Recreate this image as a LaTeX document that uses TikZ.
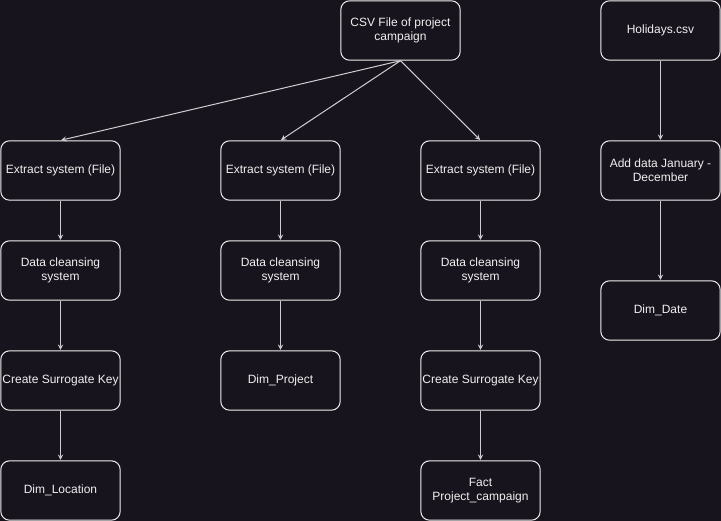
\documentclass[tikz,border=0pt]{standalone}
\usepackage{fontspec}
\setmainfont{Liberation Sans}
\usetikzlibrary{arrows}

\definecolor{bgdark}{RGB}{24,20,29}
\definecolor{edgewhite}{RGB}{240,240,240}

\tikzset{
  box/.style={draw=edgewhite,line width=0.75pt,rounded corners=6.5pt,text=edgewhite,
    minimum width=89.5pt,minimum height=44.5pt,align=center,font=\fontsize{9}{10.5}\selectfont,inner sep=1pt},
  flow/.style={->,>=stealth,draw=edgewhite!85!bgdark,line width=0.75pt,shorten >=0.4pt}
}

\begin{document}
\begin{tikzpicture}[x=0.75pt,y=-0.75pt]
  \fill[bgdark] (0,0) rectangle (721,521);
  \useasboundingbox (0,0) rectangle (721,521);

  \node[box] (csv) at (400.5,30.5) {CSV File of project\\campaign};
  \node[box] (hol) at (660.5,30.5) {Holidays.csv};

  \node[box] (extA) at (60.5,170.5) {Extract system (File)};
  \node[box] (extB) at (280.5,170.5) {Extract system (File)};
  \node[box] (extC) at (480.5,170.5) {Extract system (File)};
  \node[box] (add) at (660.5,170.5) {Add data January -\\December};

  \node[box] (clnA) at (60.5,270.5) {Data cleansing\\system};
  \node[box] (clnB) at (280.5,270.5) {Data cleansing\\system};
  \node[box] (clnC) at (480.5,270.5) {Data cleansing\\system};
  \node[box] (date) at (660.5,310.5) {Dim\_Date};

  \node[box] (keyA) at (60.5,380.5) {Create Surrogate Key};
  \node[box] (proj) at (280.5,380.5) {Dim\_Project};
  \node[box] (keyC) at (480.5,380.5) {Create Surrogate Key};

  \node[box] (loc) at (60.5,490.5) {Dim\_Location};
  \node[box] (fact) at (480.5,490.5) {Fact\\Project\_campaign};

  \draw[flow] (csv.south) -- (extA.north);
  \draw[flow] (csv.south) -- (extB.north);
  \draw[flow] (csv.south) -- (extC.north);
  \draw[flow] (hol) -- (add);
  \draw[flow] (add) -- (date);

  \draw[flow] (extA) -- (clnA);
  \draw[flow] (clnA) -- (keyA);
  \draw[flow] (keyA) -- (loc);
  \draw[flow] (extB) -- (clnB);
  \draw[flow] (clnB) -- (proj);
  \draw[flow] (extC) -- (clnC);
  \draw[flow] (clnC) -- (keyC);
  \draw[flow] (keyC) -- (fact);
\end{tikzpicture}
\end{document}
